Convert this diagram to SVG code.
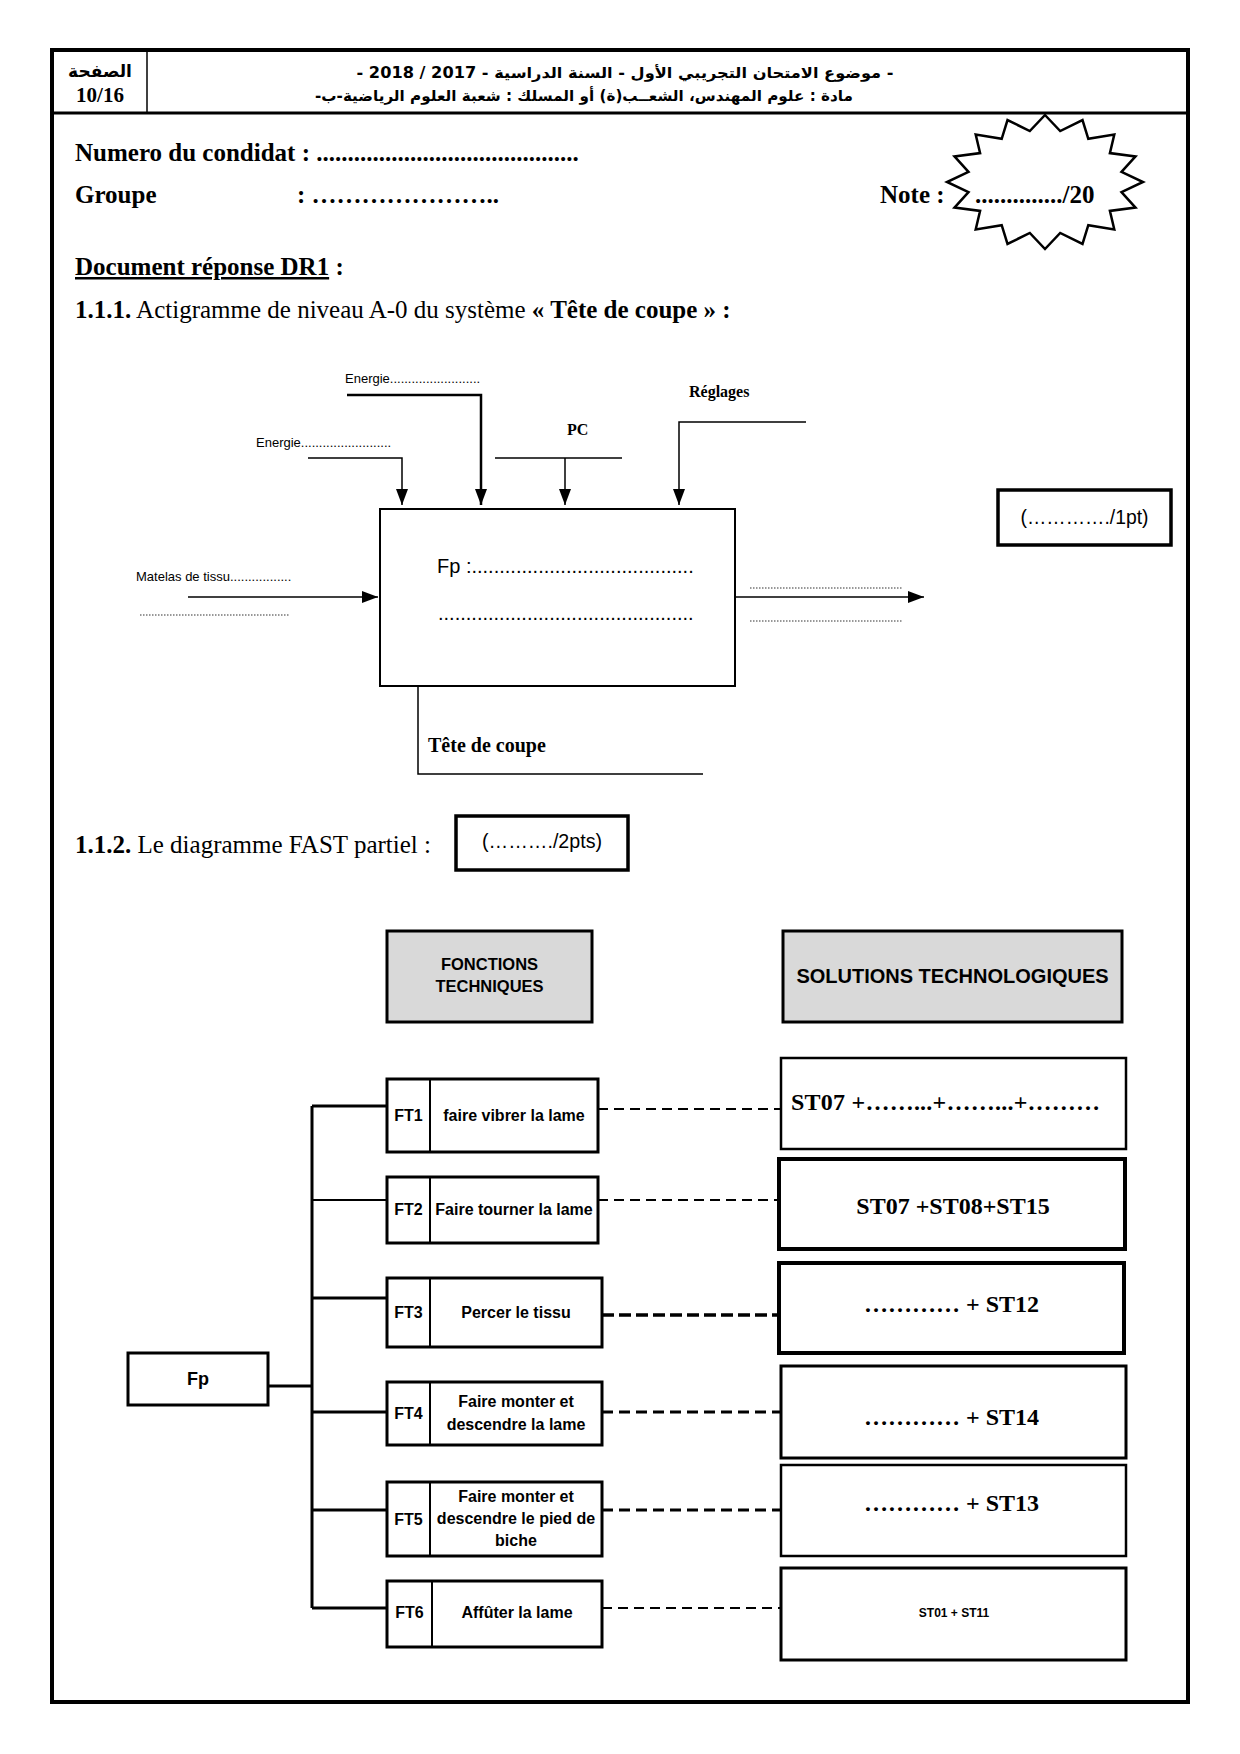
<svg xmlns="http://www.w3.org/2000/svg" width="1240" height="1754" viewBox="0 0 1240 1754">
<style>
.ser{font-family:'Liberation Serif','Times New Roman',serif}
.sans{font-family:'Liberation Sans',Arial,sans-serif}
.ar{font-family:'DejaVu Sans','Liberation Sans',sans-serif;font-weight:bold}
.b{font-weight:bold}
.box{fill:#fff;stroke:#000}
.gray{fill:#d9d9d9;stroke:#000;stroke-width:3}
.ln{fill:none;stroke:#000}
.dash{fill:none;stroke:#000;stroke-width:2;stroke-dasharray:10 6}
.dashb{fill:none;stroke:#000;stroke-width:3;stroke-dasharray:11 6}
.dashc{fill:none;stroke:#000;stroke-width:3.5;stroke-dasharray:12 5}
.dot{fill:none;stroke:#333;stroke-width:1.2;stroke-dasharray:1.5 1.5}
.mid{text-anchor:middle}
</style>
<defs>
<marker id="ah" markerUnits="userSpaceOnUse" markerWidth="16" markerHeight="12" refX="16" refY="6" orient="auto">
<path d="M0,0 L16,6 L0,12 z" fill="#000"/>
</marker>
</defs>
<rect width="1240" height="1754" fill="#fff"/>

<g id="page-frame">
<rect x="52" y="50" width="1136" height="1652" fill="none" stroke="#000" stroke-width="4"/>
<line x1="52" y1="113" x2="1188" y2="113" stroke="#000" stroke-width="3"/>
<line x1="147" y1="50" x2="147" y2="113" stroke="#000" stroke-width="1.5"/>
<text x="100" y="77" class="ar mid" font-size="17" direction="rtl">الصفحة</text>
<text x="100" y="102" class="ser b mid" font-size="21">10/16</text>
<text x="625" y="78" class="ar mid" font-size="15" direction="rtl" textLength="537" lengthAdjust="spacingAndGlyphs">- موضوع الامتحان التجريبي الأول  - السنة الدراسية - 2017 / 2018 -</text>
<text x="584" y="101" class="ar mid" font-size="15" direction="rtl" textLength="538" lengthAdjust="spacingAndGlyphs">مادة : علوم المهندس، الشعــب(ة) أو المسلك : شعبة العلوم الرياضية-ب-</text>
</g>

<g id="form-header">
<text x="75" y="161" class="ser b" font-size="25">Numero du condidat : ..........................................</text>
<text x="75" y="203" class="ser b" font-size="25">Groupe</text>
<text x="297" y="203" class="ser b" font-size="25">: …………………..</text>
<text x="880" y="203" class="ser b" font-size="25">Note :</text>
<polygon class="ln" stroke-width="2.5" points="1045,115 1060.2,131 1082.5,120.1 1088.3,138.8 1114.3,134.6 1109.9,153.1 1135.5,156.4 1121.5,171.9 1143,182 1121.5,192.1 1135.5,207.6 1109.9,210.9 1114.3,229.4 1088.3,225.2 1082.5,243.9 1060.2,233 1045,249 1029.8,233 1007.5,243.9 1001.7,225.2 975.7,229.4 980.1,210.9 954.5,207.6 968.5,192.1 947,182 968.5,171.9 954.5,156.4 980.1,153.1 975.7,134.6 1001.7,138.8 1007.5,120.1 1029.8,131"/>
<text x="975" y="203" class="ser b" font-size="25">............../20</text>
<text x="75" y="275" class="ser b" font-size="25"><tspan text-decoration="underline">Document réponse DR1</tspan> :</text>
<text x="75" y="318" class="ser" font-size="25"><tspan class="b">1.1.1.</tspan> Actigramme de niveau A-0 du système <tspan class="b">« Tête de coupe » :</tspan></text>
</g>

<g id="actigram">
<g id="a0-box">
<rect class="box" x="380" y="509" width="355" height="177" stroke-width="2"/>
<text x="437" y="573" class="sans" font-size="20">Fp :........................................</text>
<text x="438" y="620" class="sans" font-size="20">..............................................</text>
</g>
<g id="support">
<path class="ln" stroke-width="1.5" d="M418,686 V774 H703"/>
<text x="428" y="752" class="ser b" font-size="20">Tête de coupe</text>
</g>
<g id="labels">
<text x="345" y="383" class="sans" font-size="13">Energie.........................</text>
<text x="256" y="447" class="sans" font-size="13">Energie.........................</text>
<text x="567" y="435" class="ser b" font-size="16">PC</text>
<text x="689" y="397" class="ser b" font-size="16">Réglages</text>
<text x="136" y="581" class="sans" font-size="13">Matelas de tissu.................</text>
<line class="dot" x1="140" y1="615" x2="289" y2="615"/>
<line class="dot" x1="750" y1="588" x2="903" y2="588"/>
<line class="dot" x1="750" y1="621" x2="903" y2="621"/>
</g>
<g id="score-1pt">
<rect class="box" x="998" y="490" width="173" height="55" stroke-width="3.5"/>
<text x="1084.5" y="524" class="sans mid" font-size="20" textLength="128" lengthAdjust="spacingAndGlyphs">(…………./1pt)</text>
</g>
</g>

<g id="actigram-connectors">
<path class="ln" stroke-width="2.5" d="M347,395 H481 V505" marker-end="url(#ah)"/>
<path class="ln" stroke-width="1.5" d="M308,458 H402 V505" marker-end="url(#ah)"/>
<line class="ln" stroke-width="1.5" x1="495" y1="458" x2="622" y2="458"/>
<line class="ln" stroke-width="1.5" x1="565" y1="458" x2="565" y2="505" marker-end="url(#ah)"/>
<path class="ln" stroke-width="1.5" d="M806,422 H679 V505" marker-end="url(#ah)"/>
<line class="ln" stroke-width="1.5" x1="188" y1="597" x2="378" y2="597" marker-end="url(#ah)"/>
<line class="ln" stroke-width="1.5" x1="735" y1="597" x2="924" y2="597" marker-end="url(#ah)"/>
</g>

<g id="fast-title">
<text x="75" y="853" class="ser" font-size="25"><tspan class="b">1.1.2.</tspan> Le diagramme FAST partiel :</text>
<rect class="box" x="456" y="816" width="172" height="54" stroke-width="3.5"/>
<text x="542" y="848" class="sans mid" font-size="20" textLength="120" lengthAdjust="spacingAndGlyphs">(………./2pts)</text>
</g>

<g id="hdr-ft">
<rect class="gray" x="387" y="931" width="205" height="91"/>
<text x="489.5" y="970" class="sans b mid" font-size="16.5">FONCTIONS</text>
<text x="489.5" y="992" class="sans b mid" font-size="16.5">TECHNIQUES</text>
</g>
<g id="hdr-st">
<rect class="gray" x="783" y="931" width="339" height="91"/>
<text x="952.5" y="983" class="sans b mid" font-size="20">SOLUTIONS TECHNOLOGIQUES</text>
</g>

<g id="fp">
<rect class="box" x="128" y="1353" width="140" height="52" stroke-width="3"/>
<text x="198" y="1385" class="sans b mid" font-size="18">Fp</text>
</g>

<g id="ft1">
<rect class="box" x="387" y="1079" width="211" height="73" stroke-width="3"/>
<line class="ln" stroke-width="2" x1="430" y1="1079" x2="430" y2="1152"/>
<text x="408.5" y="1121" class="sans b mid" font-size="16">FT1</text>
<text x="514" y="1121" class="sans b mid" font-size="16">faire vibrer la lame</text>
</g>
<g id="ft2">
<rect class="box" x="387" y="1177" width="211" height="66" stroke-width="3"/>
<line class="ln" stroke-width="2" x1="430" y1="1177" x2="430" y2="1243"/>
<text x="408.5" y="1215" class="sans b mid" font-size="16">FT2</text>
<text x="514" y="1215" class="sans b mid" font-size="16">Faire tourner la lame</text>
</g>
<g id="ft3">
<rect class="box" x="387" y="1278" width="215" height="69" stroke-width="3"/>
<line class="ln" stroke-width="2" x1="430" y1="1278" x2="430" y2="1347"/>
<text x="408.5" y="1318" class="sans b mid" font-size="16">FT3</text>
<text x="516" y="1318" class="sans b mid" font-size="16">Percer le tissu</text>
</g>
<g id="ft4">
<rect class="box" x="387" y="1382" width="215" height="63" stroke-width="3"/>
<line class="ln" stroke-width="2" x1="430" y1="1382" x2="430" y2="1445"/>
<text x="408.5" y="1419" class="sans b mid" font-size="16">FT4</text>
<text x="516" y="1407" class="sans b mid" font-size="16">Faire monter et</text>
<text x="516" y="1430" class="sans b mid" font-size="16">descendre la lame</text>
</g>
<g id="ft5">
<rect class="box" x="387" y="1482" width="215" height="74" stroke-width="3"/>
<line class="ln" stroke-width="2" x1="430" y1="1482" x2="430" y2="1556"/>
<text x="408.5" y="1525" class="sans b mid" font-size="16">FT5</text>
<text x="516" y="1502" class="sans b mid" font-size="16">Faire monter et</text>
<text x="516" y="1524" class="sans b mid" font-size="16">descendre le pied de</text>
<text x="516" y="1546" class="sans b mid" font-size="16">biche</text>
</g>
<g id="ft6">
<rect class="box" x="387" y="1581" width="215" height="66" stroke-width="3"/>
<line class="ln" stroke-width="2" x1="432" y1="1581" x2="432" y2="1647"/>
<text x="409.5" y="1618" class="sans b mid" font-size="16">FT6</text>
<text x="517" y="1618" class="sans b mid" font-size="16">Affûter la lame</text>
</g>

<g id="st1">
<rect class="box" x="781" y="1058" width="345" height="91" stroke-width="2.5"/>
<text x="791" y="1110" class="ser b" font-size="24" textLength="309" lengthAdjust="spacing">ST07 +……...+……...+………</text>
</g>
<g id="st2">
<rect class="box" x="779" y="1159" width="346" height="90" stroke-width="4"/>
<text x="953" y="1214" class="ser b mid" font-size="24">ST07 +ST08+ST15</text>
</g>
<g id="st3">
<rect class="box" x="779" y="1263" width="345" height="90" stroke-width="4"/>
<text x="864" y="1312" class="ser b" font-size="24">………… + ST12</text>
</g>
<g id="st4">
<rect class="box" x="781" y="1366" width="345" height="92" stroke-width="3"/>
<text x="864" y="1425" class="ser b" font-size="24">………… + ST14</text>
</g>
<g id="st5">
<rect class="box" x="781" y="1465" width="345" height="91" stroke-width="2.5"/>
<text x="864" y="1511" class="ser b" font-size="24">………… + ST13</text>
</g>
<g id="st6">
<rect class="box" x="781" y="1568" width="345" height="92" stroke-width="3"/>
<text x="954" y="1617" class="sans b mid" font-size="12">ST01 + ST11</text>
</g>

<g id="fast-connectors">
<line class="ln" stroke-width="3" x1="312" y1="1106" x2="312" y2="1608"/>
<line class="ln" stroke-width="3" x1="268" y1="1386" x2="312" y2="1386"/>
<line class="ln" stroke-width="3" x1="312" y1="1106" x2="387" y2="1106"/>
<line class="ln" stroke-width="2" x1="312" y1="1200" x2="387" y2="1200"/>
<line class="ln" stroke-width="3" x1="312" y1="1298" x2="387" y2="1298"/>
<line class="ln" stroke-width="3" x1="312" y1="1412" x2="387" y2="1412"/>
<line class="ln" stroke-width="3" x1="312" y1="1510" x2="387" y2="1510"/>
<line class="ln" stroke-width="3" x1="312" y1="1608" x2="387" y2="1608"/>
<line class="dash" x1="598" y1="1109" x2="781" y2="1109"/>
<line class="dash" x1="598" y1="1200" x2="779" y2="1200"/>
<line class="dashc" x1="602" y1="1315" x2="779" y2="1315"/>
<line class="dashb" x1="602" y1="1412" x2="781" y2="1412"/>
<line class="dashb" x1="602" y1="1510" x2="781" y2="1510"/>
<line class="dash" x1="602" y1="1608" x2="781" y2="1608"/>
</g>
</svg>
